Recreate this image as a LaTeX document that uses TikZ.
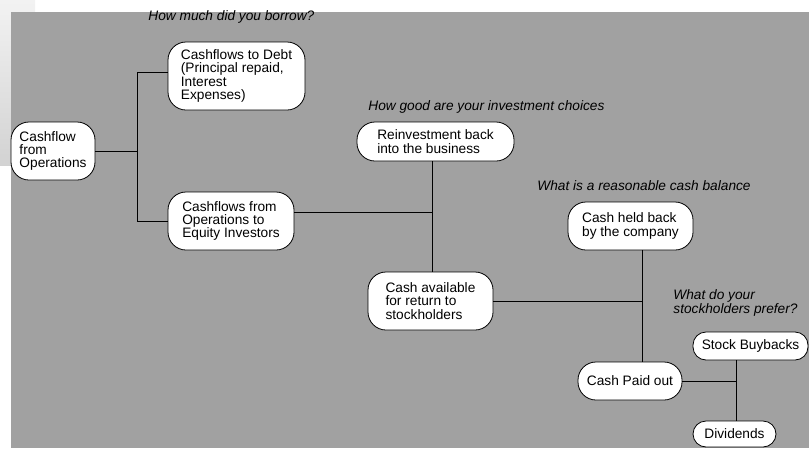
\documentclass[tikz,border=0pt]{standalone}
\usepackage{fontspec}
\setmainfont{Liberation Sans}
\definecolor{bg}{gray}{0.63}
\begin{document}
\begin{tikzpicture}[x=1pt, y=-1pt, line width=0.8pt,
        n/.style={draw, fill=white, rounded corners=18pt, align=left, inner sep=0pt,
            font=\fontsize{13.7}{13.3}\selectfont},
        pill/.style={n, rounded corners=13pt},
        q/.style={anchor=west, align=left, inner sep=0pt,
            font=\fontsize{13.7}{13.3}\selectfont\itshape}]
            \useasboundingbox (0,0) rectangle (809,448);
            \shade[top color=gray!10, bottom color=gray!35] (0,0) rectangle (35,165);
            \fill[bg] (11,12) rectangle (809,448);

            \node[q] (q1) at (148,17) {How much did you borrow?};
            \node[q] (q2) at (368,107) {How good are your investment choices};
            \node[q] (q3) at (537,186) {What is a reasonable cash balance};
            \node[q] (q4) at (673,303) {What do your\\stockholders prefer?};

            \node[n, minimum width=84, minimum height=58] (ops) at (53,151) {Cashflow\\from\\Operations};
            \node[n, minimum width=137, minimum height=68] (debt) at (236.5,76) {Cashflows to Debt\\(Principal repaid,\\Interest\\Expenses)};
            \node[n, minimum width=126, minimum height=58] (equity) at (231,221) {Cashflows from\\Operations to\\Equity Investors};
            \node[n, minimum width=157, minimum height=39] (reinv) at (435.5,141.5) {Reinvestment back\\into the business};
            \node[n, minimum width=125, minimum height=58] (avail) at (430.5,301) {Cash available\\for return to\\stockholders};
            \node[n, minimum width=125, minimum height=48] (held) at (630.5,226) {Cash held back\\by the company};
            \node[n, minimum width=104, minimum height=38] (paid) at (630,381) {Cash Paid out};
            \node[pill, minimum width=115, minimum height=28] (buy) at (750.5,346) {Stock Buybacks};
            \node[pill, minimum width=83, minimum height=26] (div) at (734.5,434) {Dividends};

            \coordinate (j1) at (137,151);
            \coordinate (j2) at (432,212);
            \coordinate (j3) at (642,301);
            \coordinate (j4) at (736,381);

            \draw (ops) -- (j1);
            \draw (j1) |- ([yshift=4pt]debt.west);
            \draw (j1) |- (equity.west);
            \draw (j2 -| equity.east) -- (j2);
            \draw (reinv.south -| j2) -- (avail.north -| j2);
            \draw (avail) -- (j3);
            \draw (held.south -| j3) -- (paid.north -| j3);
            \draw (paid) -- (j4);
            \draw (buy.south -| j4) -- (div.north -| j4);
        \end{tikzpicture}
\end{document}
